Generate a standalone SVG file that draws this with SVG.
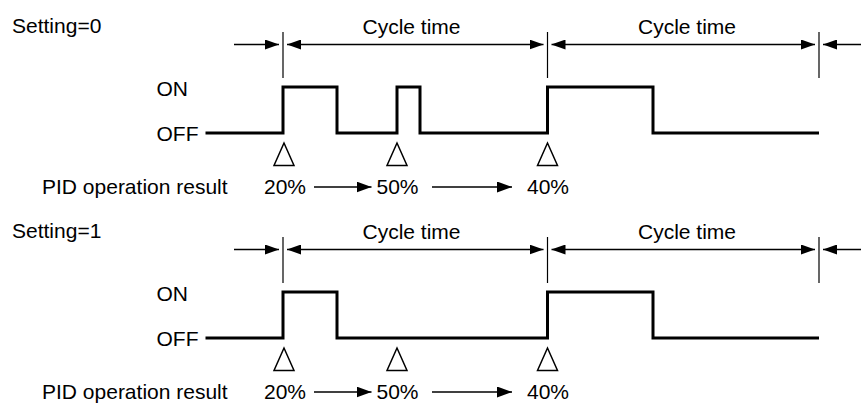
<svg xmlns="http://www.w3.org/2000/svg" width="861" height="403" viewBox="0 0 861 403">
<defs>
<marker id="ah" markerUnits="userSpaceOnUse" markerWidth="14" markerHeight="10" refX="14" refY="5" orient="auto-start-reverse" viewBox="0 0 14 10">
<path d="M0,0 L14,5 L0,10 z" fill="#000"/>
</marker>
<marker id="ah2" markerUnits="userSpaceOnUse" markerWidth="15" markerHeight="11" refX="15" refY="5.5" orient="auto" viewBox="0 0 15 11">
<path d="M0,0 L15,5.5 L0,11 z" fill="#000"/>
</marker>
<style>
text{font-family:"Liberation Sans",Arial,sans-serif;font-size:21px;fill:#000}
.dim{stroke:#000;stroke-width:1.3;fill:none}
.tick{stroke:#000;stroke-width:1.2}
.sig{stroke:#000;stroke-width:3;fill:none;stroke-linejoin:miter}
.tri{stroke:#000;stroke-width:1.5;fill:#fff}
.mid{text-anchor:middle}
</style>
</defs>
<rect width="861" height="403" fill="#fff"/>

<g id="setting0">
<text x="12" y="32.5">Setting=0</text>
<text x="156.5" y="96">ON</text>
<text x="156.5" y="141">OFF</text>
<text x="42" y="194">PID operation result</text>
<text class="mid" x="411.5" y="34">Cycle time</text>
<text class="mid" x="687" y="34">Cycle time</text>
<path id="signal0" class="sig" d="M205.5 133 H283 V87 H337 V133 H397 V87 H420 V133 H547.5 V87 H653 V133 H819"/>
<g id="ticks0" class="tick">
<line x1="283" y1="32" x2="283" y2="78"/>
<line x1="547.5" y1="32" x2="547.5" y2="78"/>
<line x1="819" y1="32" x2="819" y2="78"/>
</g>
<g id="triggers0" class="tri">
<polygon points="284,143 274,165.5 294,165.5"/>
<polygon points="397,143 387,165.5 407,165.5"/>
<polygon points="547.5,143 537.5,165.5 557.5,165.5"/>
</g>
<text x="264" y="194">20%</text>
<text x="376.5" y="194">50%</text>
<text x="527" y="194">40%</text>
</g>

<g id="setting1">
<text x="12" y="237.5">Setting=1</text>
<text x="156.5" y="301">ON</text>
<text x="156.5" y="346">OFF</text>
<text x="42" y="399">PID operation result</text>
<text class="mid" x="411.5" y="239">Cycle time</text>
<text class="mid" x="687" y="239">Cycle time</text>
<path id="signal1" class="sig" d="M205.5 338 H283 V292 H337 V338 H547.5 V292 H653 V338 H819"/>
<g id="ticks1" class="tick">
<line x1="283" y1="237" x2="283" y2="283"/>
<line x1="547.5" y1="237" x2="547.5" y2="283"/>
<line x1="819" y1="237" x2="819" y2="283"/>
</g>
<g id="triggers1" class="tri">
<polygon points="284,348 274,370.5 294,370.5"/>
<polygon points="397,348 387,370.5 407,370.5"/>
<polygon points="547.5,348 537.5,370.5 557.5,370.5"/>
</g>
<text x="264" y="399">20%</text>
<text x="376.5" y="399">50%</text>
<text x="527" y="399">40%</text>
</g>

<g id="connectors" class="dim">
<line x1="234" y1="44.5" x2="279" y2="44.5" marker-end="url(#ah)"/>
<line x1="287" y1="44.5" x2="543.5" y2="44.5" marker-start="url(#ah)" marker-end="url(#ah)"/>
<line x1="551.5" y1="44.5" x2="815" y2="44.5" marker-start="url(#ah)" marker-end="url(#ah)"/>
<line x1="861" y1="44.5" x2="823" y2="44.5" marker-end="url(#ah)"/>
<line x1="314" y1="187" x2="371.5" y2="187" marker-end="url(#ah2)"/>
<line x1="432" y1="187" x2="512" y2="187" marker-end="url(#ah2)"/>

<line x1="234" y1="249.5" x2="279" y2="249.5" marker-end="url(#ah)"/>
<line x1="287" y1="249.5" x2="543.5" y2="249.5" marker-start="url(#ah)" marker-end="url(#ah)"/>
<line x1="551.5" y1="249.5" x2="815" y2="249.5" marker-start="url(#ah)" marker-end="url(#ah)"/>
<line x1="861" y1="249.5" x2="823" y2="249.5" marker-end="url(#ah)"/>
<line x1="314" y1="392" x2="371.5" y2="392" marker-end="url(#ah2)"/>
<line x1="432" y1="392" x2="512" y2="392" marker-end="url(#ah2)"/>
</g>
</svg>
